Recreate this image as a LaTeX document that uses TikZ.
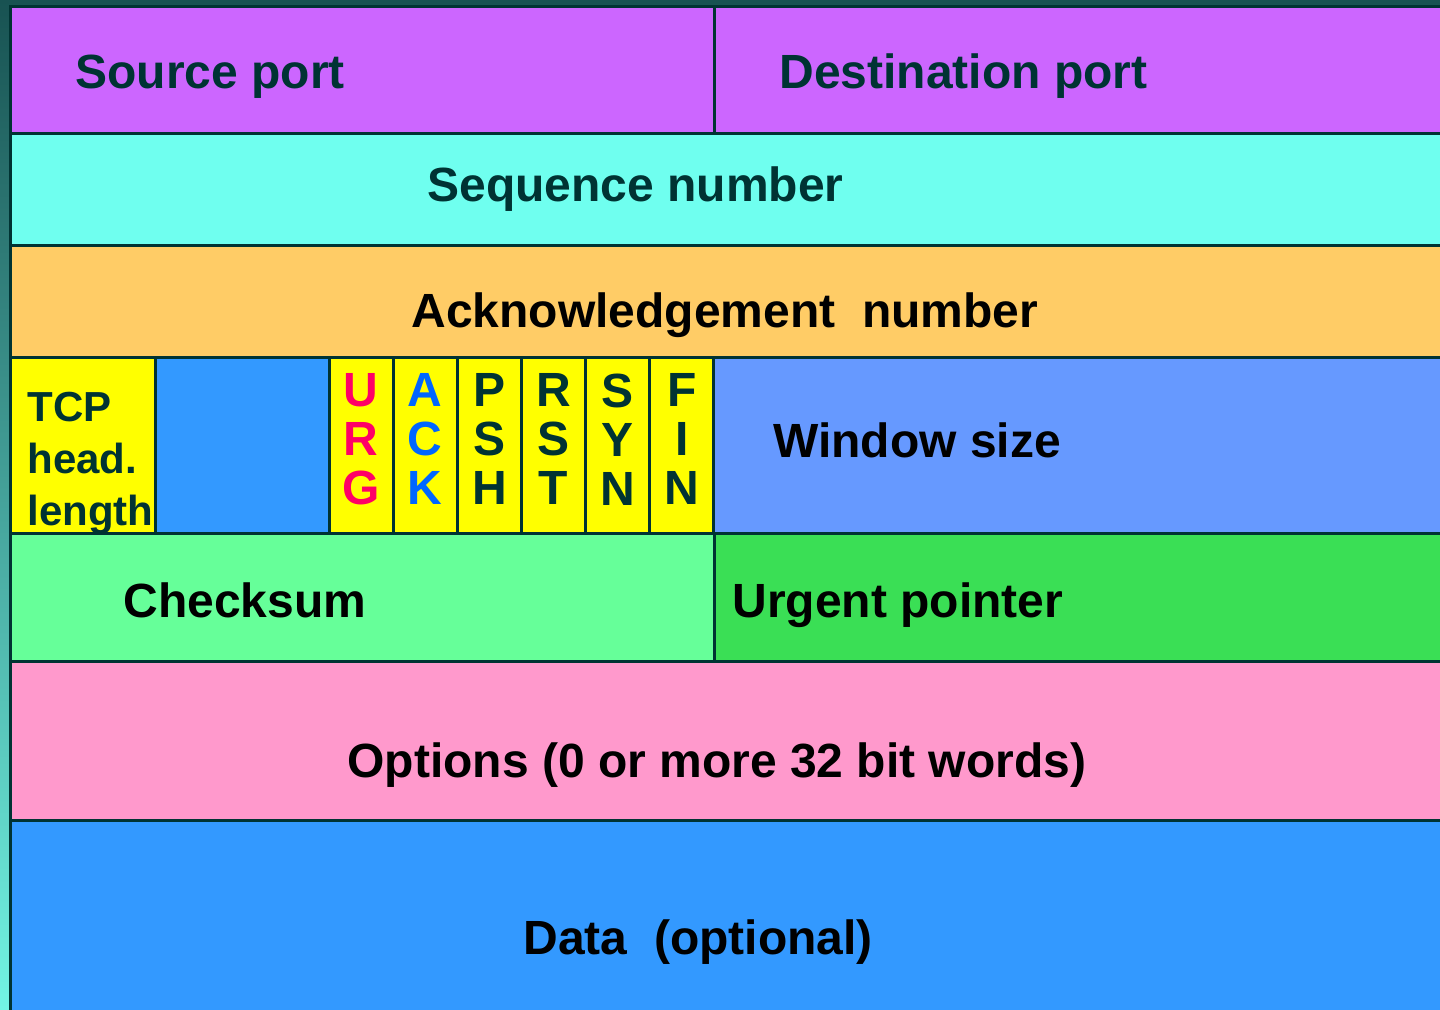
\documentclass[tikz,border=0pt]{standalone}
\usepackage{fontspec}
\setmainfont{Liberation Sans}
\usetikzlibrary{positioning}
\definecolor{ink}{HTML}{003333}
\definecolor{bgtop}{HTML}{185252}
\definecolor{bgbot}{HTML}{72F4E4}
\definecolor{portc}{HTML}{CC66FF}
\definecolor{seqc}{HTML}{6FFFEF}
\definecolor{ackc}{HTML}{FFCC66}
\definecolor{flagc}{HTML}{FFFF00}
\definecolor{resvc}{HTML}{3399FF}
\definecolor{winc}{HTML}{6699FF}
\definecolor{chkc}{HTML}{66FF99}
\definecolor{urgc}{HTML}{3ADF55}
\definecolor{optc}{HTML}{FF99CC}
\definecolor{datac}{HTML}{3399FF}
\definecolor{urgred}{HTML}{FF0066}
\definecolor{ackblue}{HTML}{0066FF}
\def\fullw{725pt}
\def\halfw{352pt}
\def\restw{373pt}
\def\flagw{32.08pt}
\tikzset{
field/.style={draw=ink,line width=1.5pt,rectangle,inner sep=0pt,outer sep=0pt,anchor=north west},
lbl/.style={font=\fontsize{24}{24}\selectfont\bfseries,inner sep=0pt,text depth=0pt,text=ink},
dark/.style={text=black},
flag/.style={field,fill=flagc,minimum width=\flagw,minimum height=88.25pt,
  font=\fontsize{24}{24.5}\selectfont\bfseries,align=center,text depth=6pt},
}
\begin{document}
\begin{tikzpicture}
\useasboundingbox (0,0) rectangle (720pt,-504.5pt);
\clip (0,0) rectangle (720pt,-504.5pt);
\fill[top color=bgtop,bottom color=bgbot] (0,0) rectangle (720pt,-504.5pt);
% ports
\node[field,fill=portc,minimum width=\halfw,minimum height=63.5pt] (sp) at (5pt,-3pt) {};
\node[field,fill=portc,minimum width=\restw,minimum height=63.5pt] (dp) [right=0pt of sp] {};
\node[lbl,above right=22pt and 32.5pt of sp.south west] (sp-t) {Source port};
\node[lbl,above right=22pt and 32.5pt of dp.south west] (dp-t) {Destination port};
% sequence and ack
\node[field,fill=seqc,minimum width=\fullw,minimum height=56pt] (seq) [below=0pt of sp.south west,anchor=north west] {};
\node[lbl,above right=21.5pt and 208.5pt of seq.south west] (seq-t) {Sequence number};
\node[field,fill=ackc,minimum width=\fullw,minimum height=56pt] (ack) [below=0pt of seq.south west,anchor=north west] {};
\node[lbl,dark,above right=14.5pt and 200.5pt of ack.south west] (ack-t) {Acknowledgement\ \ number};
% header length, reserved, flags, window
\node[field,fill=flagc,minimum width=72.5pt,minimum height=88.25pt] (hlen) [below=0pt of ack.south west,anchor=north west] {};
\node[field,fill=resvc,minimum width=87pt,minimum height=88.25pt] (resv) [right=0pt of hlen] {};
\foreach \f/\la/\lb/\lc/\col [remember=\f as \prev (initially resv)] in
  {urg/U/R/G/urgred, ackf/A/C/K/ackblue, psh/P/S/H/ink, rst/R/S/T/ink, syn/S/Y/N/ink, fin/F/I/N/ink}
  \node[flag,text=\col,right=0pt of \prev] (\f) {\la\\\lb\\\lc};
\node[field,fill=winc,minimum width=\restw,minimum height=88.25pt] (win) [right=0pt of fin] {};
\node[lbl,font=\fontsize{21}{26}\selectfont\bfseries,align=left,below right=17.5pt and 8.5pt of hlen.north west] (hlen-t) {TCP\\head.\\length};
\node[lbl,dark,above right=38pt and 29.5pt of win.south west] (win-t) {Window size};
% checksum, urgent pointer
\node[field,fill=chkc,minimum width=\halfw,minimum height=63.75pt] (chk) [below=0pt of hlen.south west,anchor=north west] {};
\node[field,fill=urgc,minimum width=\restw,minimum height=63.75pt] (uptr) [right=0pt of chk] {};
\node[lbl,dark,above right=21.5pt and 56.5pt of chk.south west] (chk-t) {Checksum};
\node[lbl,dark,above right=21.5pt and 9pt of uptr.south west] (uptr-t) {Urgent pointer};
% options and data
\node[field,fill=optc,minimum width=\fullw,minimum height=79.5pt] (opt) [below=0pt of chk.south west,anchor=north west] {};
\node[lbl,dark,above right=21pt and 168.5pt of opt.south west] (opt-t) {Options (0 or more 32 bit words)};
\node[field,fill=datac,minimum width=\fullw,minimum height=110pt] (data) [below=0pt of opt.south west,anchor=north west] {};
\node[lbl,dark,above right=42.5pt and 256.5pt of data.south west] (data-t) {Data\ \ (optional)};
\end{tikzpicture}
\end{document}
